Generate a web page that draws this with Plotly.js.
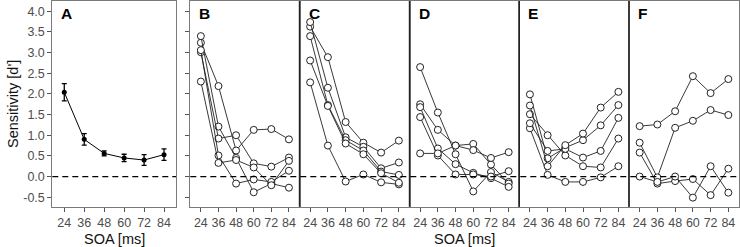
<!DOCTYPE html>
<html>
<head>
<meta charset="utf-8">
<script src="https://cdn.plot.ly/plotly-3.0.1.min.js"></script>
<style>
  html, body { margin: 0; padding: 0; background: #fff; }
  #chart { width: 740px; height: 247px; }
</style>
</head>
<body>
<div id="chart"></div>
<script>
// ---- data ----
const soa = [24, 36, 48, 60, 72, 84];
const yTickVals = [-0.5, 0, 0.5, 1, 1.5, 2, 2.5, 3, 3.5, 4];
const yTickText = ['-0.5', '0.0', '0.5', '1.0', '1.5', '2.0', '2.5', '3.0', '3.5', '4.0'];
const panelLetters = ['A', 'B', 'C', 'D', 'E', 'F'];

// Panel A: group mean and error
const meanA = [2.04, 0.90, 0.56, 0.45, 0.40, 0.53];
const errA  = [0.21, 0.14, 0.06, 0.09, 0.13, 0.14];

// Panels B-F: individual participants
const panelB = [
  [3.24, 2.19, 0.63, 1.13, 1.15, 0.90],
  [3.40, 1.21, 0.45, -0.38, -0.17, -0.27],
  [3.01, 0.92, 1.00, 0.32, 0.24, 0.46],
  [3.06, 0.51, -0.17, -0.07, -0.13, 0.14],
  [2.30, 0.33, 0.40, 0.22, -0.21, 0.38]
];
const panelC = [
  [3.63, 2.89, 1.32, 0.82, 0.58, 0.87],
  [2.28, 0.75, -0.12, 0.05, -0.14, -0.19],
  [3.74, 2.15, 0.95, 0.72, 0.20, 0.34],
  [3.40, 1.73, 0.88, 0.63, 0.12, 0.04],
  [2.81, 1.71, 0.80, 0.54, 0.08, -0.15]
];
const panelD = [
  [2.65, 1.55, 0.54, -0.36, 0.11, -0.13],
  [1.75, 1.13, 0.75, 0.79, 0.29, -0.17],
  [1.68, 0.68, 0.30, 0.09, -0.04, -0.25],
  [1.44, 0.51, 0.05, 0.05, 0.00, 0.13],
  [0.56, 0.56, 0.75, 0.64, 0.45, 0.59]
];
const panelE = [
  [1.99, 0.44, 0.70, 0.88, 1.24, 1.73],
  [1.51, 1.00, 0.51, 0.25, 0.22, 0.92],
  [1.17, 0.04, -0.13, -0.13, -0.02, 0.25],
  [1.29, 0.62, 0.67, 0.46, 0.62, 1.42],
  [1.72, 0.25, 0.76, 1.04, 1.67, 2.05]
];
const panelF = [
  [1.22, 1.26, 1.58, 2.43, 2.02, 2.36],
  [0.82, -0.02, 1.18, 1.35, 1.61, 1.49],
  [0.58, -0.17, -0.11, -0.06, -0.45, 0.19],
  [0.00, -0.13, 0.00, -0.51, 0.25, -0.39]
];
const individualPanels = [panelB, panelC, panelD, panelE, panelF];

// ---- layout geometry (pixels) ----
const W = 740, H = 247;
const plotTop = 1, plotBottom = 206.7;
const panelEdges = [[52.3, 176], [190.3, 299.5], [299.5, 409.5], [409.5, 519.3], [519.3, 629], [629, 739]];
const px = v => v / W;
const yDom = [(H - plotBottom) / H, (H - plotTop) / H];

const tickFont = { family: 'Liberation Sans, Arial, sans-serif', size: 12.5, color: '#4d4d4d' };
const xRange = [16.8, 91.2];
const yRange = [-0.73, 4.25];

const traces = [];
traces.push({
  x: soa, y: meanA, type: 'scatter', mode: 'lines+markers',
  xaxis: 'x', yaxis: 'y',
  line: { color: '#000', width: 1 },
  marker: { color: '#000', size: 5 },
  error_y: { type: 'data', array: errA, visible: true, color: '#000', thickness: 1.3, width: 2.5 },
  hoverinfo: 'skip', showlegend: false
});
individualPanels.forEach((panel, pi) => {
  const ax = pi + 2;
  panel.forEach(series => {
    traces.push({
      x: soa, y: series, type: 'scatter', mode: 'lines+markers',
      xaxis: 'x' + ax, yaxis: 'y' + ax,
      line: { color: '#222', width: 0.9 },
      marker: { symbol: 'circle', size: 7, color: '#fff', line: { color: '#222', width: 1 } },
      hoverinfo: 'skip', showlegend: false
    });
  });
});

const layout = {
  width: W, height: H,
  margin: { l: 0, r: 0, t: 0, b: 0, pad: 0 },
  paper_bgcolor: '#fff', plot_bgcolor: '#fff',
  showlegend: false,
  shapes: [], annotations: []
};

panelEdges.forEach((e, i) => {
  const n = i + 1;
  const xk = n === 1 ? 'xaxis' : 'xaxis' + n;
  const yk = n === 1 ? 'yaxis' : 'yaxis' + n;
  layout[xk] = {
    domain: [px(e[0]), px(e[1])], range: xRange, anchor: n === 1 ? 'y' : 'y' + n,
    tickmode: 'array', tickvals: soa, ticktext: soa.map(String),
    ticks: 'outside', ticklen: 4, tickwidth: 1, tickcolor: '#555',
    tickfont: tickFont, showgrid: false, zeroline: false,
    showline: true, mirror: true, linecolor: '#7a7a7a', linewidth: 1,
    fixedrange: true
  };
  layout[yk] = {
    domain: yDom, range: yRange, anchor: n === 1 ? 'x' : 'x' + n,
    tickmode: 'array', tickvals: yTickVals, ticktext: yTickText,
    ticks: (n <= 2) ? 'outside' : '', ticklen: 4, tickwidth: 1, tickcolor: '#555',
    showticklabels: n === 1, tickfont: tickFont,
    showgrid: false, zeroline: false,
    showline: true, mirror: true, linecolor: '#7a7a7a', linewidth: 1,
    fixedrange: true
  };
  layout.annotations.push({
    text: '<b>' + panelLetters[i] + '</b>', xref: 'paper', yref: 'paper',
    x: px(e[0] + 7), y: (H - 13.5) / H, xanchor: 'left', yanchor: 'middle',
    showarrow: false, font: { family: 'Liberation Sans, Arial, sans-serif', size: 15.5, color: '#000' }
  });
});

// zero reference lines
layout.shapes.push({ type: 'line', xref: 'paper', yref: 'y', x0: px(panelEdges[0][0]), x1: px(panelEdges[0][1]), y0: 0, y1: 0,
  line: { color: '#000', width: 1.3, dash: '6px,4px' } });
layout.shapes.push({ type: 'line', xref: 'paper', yref: 'y', x0: px(panelEdges[1][0]), x1: px(panelEdges[5][1]), y0: 0, y1: 0,
  line: { color: '#000', width: 1.3, dash: '6px,4px' } });
// darker separators between facets
[2, 3, 4, 5].forEach(i => {
  layout.shapes.push({ type: 'line', xref: 'paper', yref: 'paper', x0: px(panelEdges[i][0]), x1: px(panelEdges[i][0]),
    y0: yDom[0], y1: yDom[1], line: { color: '#222', width: 1.4 } });
});

// axis titles
const titleFont = { family: 'Liberation Sans, Arial, sans-serif', size: 14.5, color: '#111' };
layout.annotations.push({ text: 'Sensitivity [d\']', xref: 'paper', yref: 'paper', x: px(13), y: (H - 104) / H,
  textangle: -90, xanchor: 'center', yanchor: 'middle', showarrow: false, font: titleFont });
layout.annotations.push({ text: 'SOA [ms]', xref: 'paper', yref: 'paper', x: px(114), y: (H - 239) / H,
  xanchor: 'center', yanchor: 'middle', showarrow: false, font: titleFont });
layout.annotations.push({ text: 'SOA [ms]', xref: 'paper', yref: 'paper', x: px(464.5), y: (H - 239) / H,
  xanchor: 'center', yanchor: 'middle', showarrow: false, font: titleFont });

Plotly.newPlot('chart', traces, layout, { staticPlot: true, displayModeBar: false });
</script>
</body>
</html>
